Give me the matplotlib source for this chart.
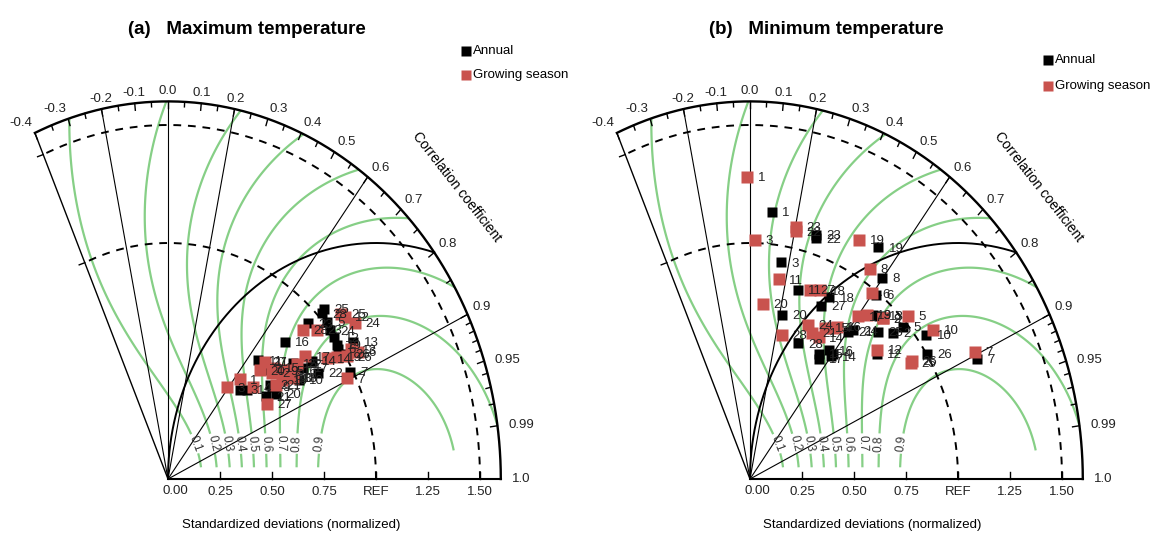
import numpy as np
import matplotlib.pyplot as plt

plt.rcParams['font.family'] = ['Liberation Sans', 'DejaVu Sans']

W, H = 1163, 538
SX, SY = 208.0, 236.0      # pixels per unit of normalized std dev
RMAX = 1.6
CMIN = -0.4
GREEN = '#86cf86'
RED = '#c9534e'

stations = list(range(1, 29))

# (a) Maximum temperature
tmax_ann_std = [0.534, 0.633, 0.512, 0.658, 1.013, 0.987, 0.986, 0.712, 0.634, 0.757,
                0.665, 1.000, 1.064, 0.852, 0.775, 0.809, 0.802, 0.738, 0.990, 0.632,
                0.586, 0.849, 0.944, 1.002, 1.040, 1.002, 0.670, 1.019]
tmax_ann_cor = [0.708, 0.775, 0.676, 0.714, 0.753, 0.830, 0.887, 0.786, 0.789, 0.832,
                0.653, 0.800, 0.837, 0.810, 0.774, 0.695, 0.810, 0.813, 0.819, 0.822,
                0.802, 0.848, 0.715, 0.777, 0.721, 0.849, 0.671, 0.725]
tmax_gs_std = [0.546, 0.673, 0.482, 0.565, 0.732, 1.062, 0.959, 0.738, 0.709, 0.722,
               0.681, 1.094, 1.038, 0.918, 0.694, 0.756, 0.840, 0.692, 0.962, 0.637,
               0.656, 0.790, 0.954, 1.116, 1.086, 1.005, 0.572, 0.906]
tmax_gs_cor = [0.634, 0.743, 0.591, 0.726, 0.778, 0.862, 0.896, 0.813, 0.761, 0.803,
               0.684, 0.778, 0.848, 0.831, 0.735, 0.794, 0.786, 0.795, 0.843, 0.691,
               0.793, 0.785, 0.750, 0.806, 0.764, 0.856, 0.829, 0.717]

# (b) Minimum temperature
tmin_ann_std = [1.138, 0.927, 0.930, 0.664, 0.979, 0.988, 1.203, 1.063, 0.912, 1.045,
                0.833, 0.808, 0.928, 0.650, 0.624, 0.664, 0.607, 0.859, 1.160, 0.711,
                0.783, 1.068, 1.082, 0.803, 0.878, 1.002, 0.809, 0.620]
tmin_ann_cor = [0.091, 0.743, 0.158, 0.602, 0.753, 0.613, 0.906, 0.597, 0.647, 0.812,
                0.275, 0.755, 0.668, 0.600, 0.529, 0.572, 0.543, 0.443, 0.532, 0.214,
                0.604, 0.297, 0.293, 0.619, 0.703, 0.849, 0.420, 0.374]
tmin_gs_std = [1.281, 0.934, 1.013, 0.755, 1.025, 0.981, 1.209, 1.060, 0.935, 1.084,
               0.858, 0.821, 0.893, 0.685, 0.734, 0.768, 0.864, 0.868, 1.141, 0.745,
               0.689, 1.073, 1.092, 0.710, 0.916, 0.926, 0.851, 0.629]
tmin_gs_cor = [-0.010, 0.685, 0.024, 0.530, 0.739, 0.597, 0.895, 0.544, 0.685, 0.813,
               0.162, 0.745, 0.628, 0.482, 0.490, 0.543, 0.602, 0.388, 0.461, 0.086,
               0.435, 0.205, 0.201, 0.394, 0.843, 0.842, 0.338, 0.242]

std_ticks = [0.25, 0.5, 0.75, 1.0, 1.25, 1.5]
std_labels = ['0.25', '0.50', '0.75', 'REF', '1.25', '1.50']
cor_major = [-0.4, -0.3, -0.2, -0.1, 0.0, 0.1, 0.2, 0.3, 0.4, 0.5, 0.6, 0.7, 0.8, 0.9,
             0.95, 0.99, 1.0]
cor_major_labels = ['-0.4', '-0.3', '-0.2', '-0.1', '0.0', '0.1', '0.2', '0.3', '0.4',
                    '0.5', '0.6', '0.7', '0.8', '0.9', '0.95', '0.99', '1.0']
cor_minor = [-0.35, -0.25, -0.15, -0.05, 0.05, 0.15, 0.25, 0.35, 0.45, 0.55, 0.65,
             0.75, 0.85, 0.91, 0.92, 0.93, 0.94, 0.96, 0.97, 0.98]
cor_spokes = [-0.2, 0.0, 0.2, 0.6, 0.9]
skill_levels = [0.1, 0.2, 0.3, 0.4, 0.5, 0.6, 0.7, 0.8, 0.9]


def to_xy(std, cor):
    th = np.arccos(np.asarray(cor, float))
    std = np.asarray(std, float)
    return std * np.cos(th), std * np.sin(th)


def px_unit(th):
    v = np.array([np.cos(th) * SX, np.sin(th) * SY])
    return v / np.hypot(*v)


def skill(x, y):
    s = np.hypot(x, y)
    s = np.where(s == 0, np.nan, s)
    r = x / s
    return (1 + r) ** 2 / (s + 1 / s) ** 2


def draw_frame(ax):
    tlim = np.arccos(CMIN)
    t = np.linspace(0, tlim, 400)
    ax.plot(RMAX * np.cos(t), RMAX * np.sin(t), color='k', lw=1.7, zorder=3)
    ax.plot([0, RMAX], [0, 0], color='k', lw=1.5, zorder=3)
    ax.plot([0, RMAX * np.cos(tlim)], [0, RMAX * np.sin(tlim)], color='k', lw=1.0, zorder=3)
    for c in cor_spokes:
        th = np.arccos(c)
        ax.plot([0, RMAX * np.cos(th)], [0, RMAX * np.sin(th)], color='k', lw=0.8, zorder=3)
    for r in [1.0, 1.5]:
        ax.plot(r * np.cos(t), r * np.sin(t), color='k', lw=1.4, ls=(0, (4, 3.5)), zorder=3)
        # small tick on the left boundary
        u = px_unit(tlim)
        n = np.array([-u[1], u[0]]) * 6
        p = np.array([r * np.cos(tlim), r * np.sin(tlim)])
        ax.plot([p[0], p[0] + n[0] / SX], [p[1], p[1] + n[1] / SY], color='k', lw=1.0)

    # centred RMS difference = 1 circle
    tc = np.linspace(np.arccos((RMAX ** 2 - 2) / 2), np.pi, 300)
    ax.plot(1 + np.cos(tc), np.sin(tc), color='k', lw=1.4, zorder=3)

    # std ticks and labels
    for v, lab in zip(std_ticks, std_labels):
        ax.plot([v, v], [0, 7 / SY], color='k', lw=1.0)
        ax.annotate(lab, (v, 0), xytext=(0, -5), textcoords='offset points',
                    ha='center', va='top', fontsize=9.5, color='#222222')
    ax.annotate('0.00', (0, 0), xytext=(5, -4), textcoords='offset points',
                ha='center', va='top', fontsize=9.5, color='#222222')

    # correlation ticks
    for c, ln in [(c, 7) for c in cor_major[:-1]] + [(c, 5) for c in cor_minor]:
        th = np.arccos(c)
        u = px_unit(th) * ln
        p = np.array([RMAX * np.cos(th), RMAX * np.sin(th)])
        ax.plot([p[0], p[0] - u[0] / SX], [p[1], p[1] - u[1] / SY], color='k', lw=1.0)
    for c, lab in zip(cor_major, cor_major_labels):
        th = np.arccos(c)
        deg = np.degrees(th)
        if deg < 75:
            ha = 'left'
        elif deg < 104:
            ha = 'center'
        else:
            ha = 'right'
        va = 'bottom' if deg > 24 else 'center'
        off = (4 * np.cos(th) + (4 if deg < 24 else 0), 3 * np.sin(th))
        ax.annotate(lab, (RMAX * np.cos(th), RMAX * np.sin(th)), xytext=off,
                    textcoords='offset points', ha=ha, va=va, fontsize=9.5, color='#222222')


def draw_skill(ax):
    gx = np.linspace(-0.7, 1.65, 800)
    gy = np.linspace(0.0, 1.65, 600)
    X, Y = np.meshgrid(gx, gy)
    Z = skill(X, Y)
    R = np.hypot(X, Y)
    TH = np.arctan2(Y, X)
    Z[(R > RMAX) | (TH > np.arccos(CMIN)) | (Y < 0.047) | ((X > 1.0) & (Y < 0.12))] = np.nan
    cs = ax.contour(X, Y, Z, levels=skill_levels, colors=GREEN, linewidths=1.6, zorder=2)
    xs = np.linspace(0.02, 0.99, 2000)
    sv = skill(xs, np.full_like(xs, 0.15))
    pos = [(np.interp(lv, sv, xs), 0.15) for lv in skill_levels]
    cs.clabel(manual=pos, inline=True, inline_spacing=2, fmt='%.1f', fontsize=8.5,
              colors='#333333')


def draw_points(ax, std, cor, color, ms):
    x, y = to_xy(std, cor)
    ax.plot(x, y, 's', color=color, ms=ms, mec='none', zorder=5)
    for n, xi, yi in zip(stations, x, y):
        ax.annotate(str(n), (xi, yi), xytext=(7.5, -1), textcoords='offset points',
                    ha='left', va='center', fontsize=9.5, color='#222222', zorder=6)


def panel(ax, left_px, width_px, origin_px, title, ann, gs, leg_y):
    ax.set_xlim((left_px - origin_px) / SX, (left_px + width_px - origin_px) / SX)
    ax.set_ylim(-(H - 479) / SY, 479 / SY)
    ax.axis('off')
    draw_skill(ax)
    draw_frame(ax)
    draw_points(ax, ann[0], ann[1], 'black', 7.0)
    draw_points(ax, gs[0], gs[1], RED, 8.3)
    ax.text(128 / 580, 1 - 30 / H, title, transform=ax.transAxes, fontsize=13.5,
            fontweight='bold', ha='left', va='center')
    for (lab, col), yy in zip([('Annual', 'black'), ('Growing season', RED)], leg_y):
        ax.plot([0.803], [1 - yy / H], 's', color=col, ms=6.5, mec='none',
                transform=ax.transAxes, clip_on=False)
        ax.text(0.815, 1 - yy / H, lab, transform=ax.transAxes, fontsize=9.5,
                ha='left', va='center')
    ax.text(0.787, 0.652, 'Correlation coefficient', transform=ax.transAxes, fontsize=10,
            rotation=-52, ha='center', va='center', rotation_mode='anchor')
    ax.text(0.502, 0.024, 'Standardized deviations (normalized)', transform=ax.transAxes,
            fontsize=9.5, ha='center', va='center')


fig = plt.figure(figsize=(W / 100, H / 100), dpi=100)
ax1 = fig.add_axes([0, 0, 580 / W, 1])
ax2 = fig.add_axes([580 / W, 0, 583 / W, 1])
panel(ax1, 0, 580, 168, '(a)   Maximum temperature',
      (tmax_ann_std, tmax_ann_cor), (tmax_gs_std, tmax_gs_cor), [51, 75])
panel(ax2, 580, 583, 750, '(b)   Minimum temperature',
      (tmin_ann_std, tmin_ann_cor), (tmin_gs_std, tmin_gs_cor), [60, 86])
fig.savefig('out.png', dpi=100)
